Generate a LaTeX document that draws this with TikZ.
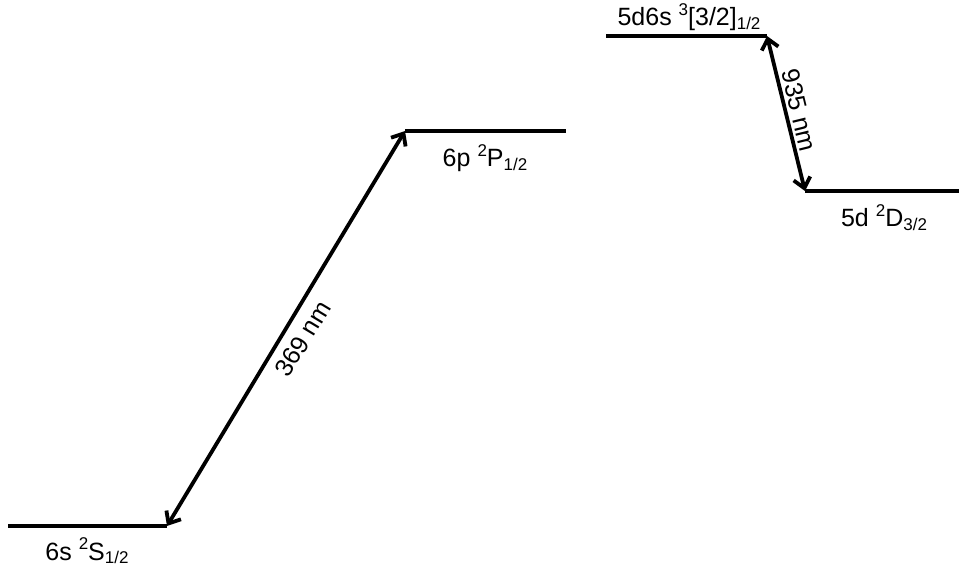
\documentclass[tikz,border=0pt]{standalone}
\usepackage{fontspec}
\setmainfont{Liberation Sans}
\usetikzlibrary{arrows.meta}
\newcommand\lvup[1]{\raisebox{10.5pt}{\fontsize{17}{17}\selectfont #1}}
\newcommand\lvdn[1]{\raisebox{-3.5pt}{\fontsize{17}{17}\selectfont #1}}
\begin{document}
\begin{tikzpicture}[x=1pt,y=-1pt,
  level/.style={line width=4pt},
  trans/.style={line width=3.8pt,{Straight Barb[length=10pt,width=17pt]}-{Straight Barb[length=10pt,width=17pt]}},
  lab/.style={font=\fontsize{25}{27}\selectfont, anchor=base, inner sep=0pt},
  tlab/.style={font=\fontsize{25}{27}\selectfont, inner sep=3pt}]
\useasboundingbox (0,0) rectangle (959,569);
% level end points
\coordinate (sL) at (8,526);   \coordinate (sR) at (167,526);
\coordinate (pL) at (405,131); \coordinate (pR) at (566,131);
\coordinate (bL) at (606,36);  \coordinate (bR) at (767,36);
\coordinate (dL) at (805,191); \coordinate (dR) at (959,191);
% levels
\draw[level] (sL) -- (sR);
\draw[level] (pL) -- (pR);
\draw[level] (bL) -- (bR);
\draw[level] (dL) -- (dR);
% labels
\node[lab] (s) at (87,560) {6s \lvup{2}S\lvdn{1/2}};
\node[lab] (p) at (485,167) {6p \lvup{2}P\lvdn{1/2}};
\node[lab] (b) at (689,26) {5d6s \lvup{3}[3/2]\lvdn{1/2}};
\node[lab] (d) at (884,227) {5d \lvup{2}D\lvdn{3/2}};
% transitions
\draw[trans] (sR) -- (pL) node[tlab, midway, sloped, below=6pt] (t1) {369 nm};
\draw[trans] (bR) -- (dL) node[tlab, midway, sloped, above=0pt] (t2) {935 nm};
\end{tikzpicture}
\end{document}
